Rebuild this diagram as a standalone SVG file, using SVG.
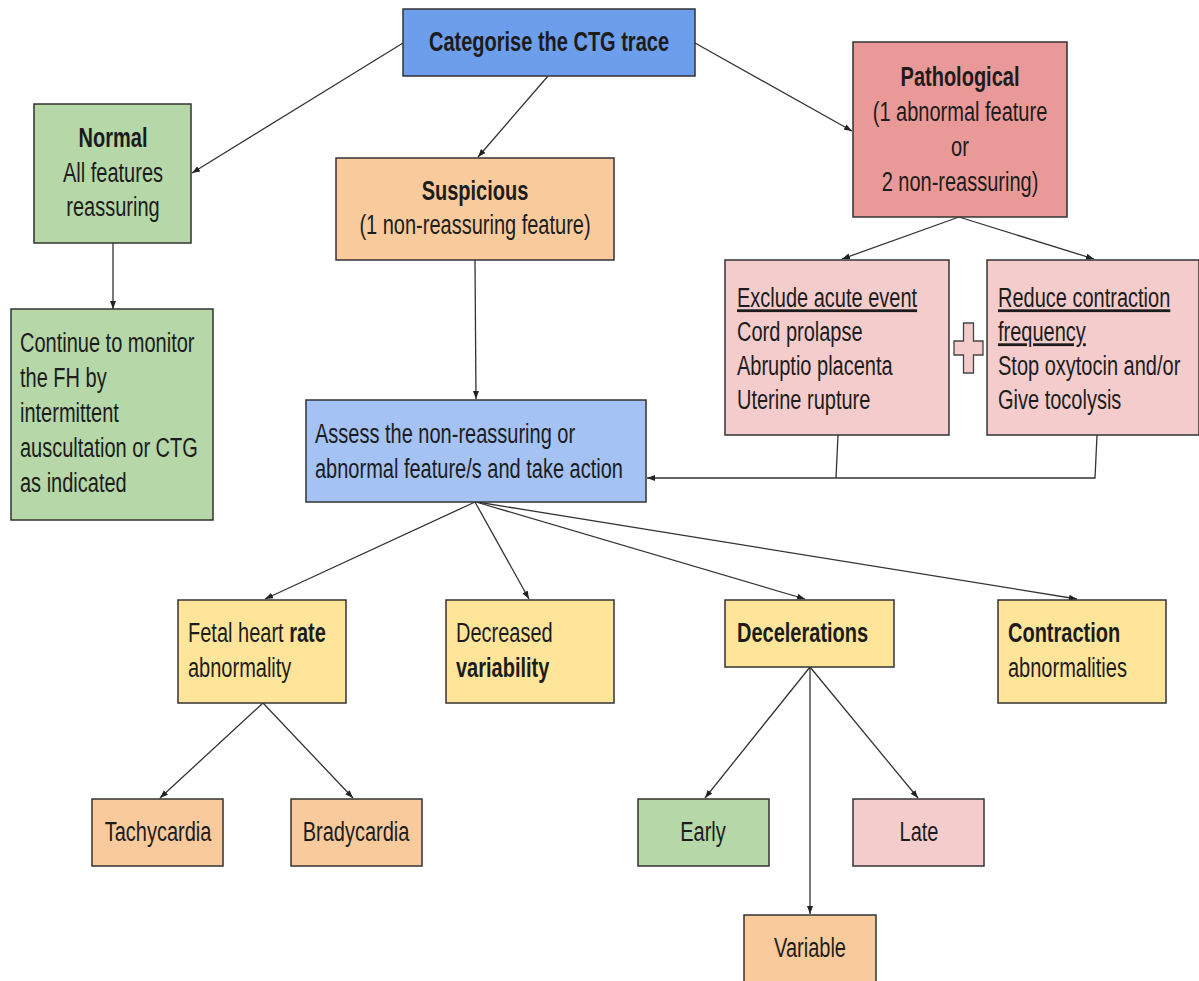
<svg xmlns="http://www.w3.org/2000/svg" width="1199" height="981" viewBox="0 0 1199 981">
<style>
.box{stroke:#333;stroke-width:1.5}
.t{font-family:"Liberation Sans",Arial,sans-serif;font-size:20px;fill:#1c1c1c}
.b{font-weight:bold}
.m{text-anchor:middle}
.u{text-decoration:underline}
.c{fill:none;stroke:#333;stroke-width:1.3}
.blue{fill:#6d9eeb}.lblue{fill:#a4c2f4}.green{fill:#b6d7a8}.orange{fill:#f9cb9c}
.red{fill:#ea9999}.pink{fill:#f4cccc}.yellow{fill:#ffe599}
</style>
<defs>
<marker id="ah" markerUnits="userSpaceOnUse" markerWidth="9" markerHeight="7" refX="8" refY="3.5" orient="auto">
<path d="M0,0.5 L8,3.5 L0,6.5 z" fill="#222"/>
</marker>
</defs>
<rect width="1199" height="981" fill="#fff"/>
<g id="connectors">
<path class="c" d="M403,43 L192,173" marker-end="url(#ah)"/>
<path class="c" d="M548,76 L478,157" marker-end="url(#ah)"/>
<path class="c" d="M695,43 L852,131" marker-end="url(#ah)"/>
<path class="c" d="M113,243 L113,309" marker-end="url(#ah)"/>
<path class="c" d="M475,260 L476,399" marker-end="url(#ah)"/>
<path class="c" d="M959,217 L842,259" marker-end="url(#ah)"/>
<path class="c" d="M959,217 L1094,259" marker-end="url(#ah)"/>
<path class="c" d="M838,435 L836,478"/>
<path class="c" d="M1097,435 L1095,478 L647,478" marker-end="url(#ah)"/>
<path class="c" d="M475,502 L265,599" marker-end="url(#ah)"/>
<path class="c" d="M475,502 L529,599" marker-end="url(#ah)"/>
<path class="c" d="M476,502 L805,599" marker-end="url(#ah)"/>
<path class="c" d="M477,502 L1077,599" marker-end="url(#ah)"/>
<path class="c" d="M263,703 L160,798" marker-end="url(#ah)"/>
<path class="c" d="M263,703 L353,798" marker-end="url(#ah)"/>
<path class="c" d="M810,667 L705,798" marker-end="url(#ah)"/>
<path class="c" d="M810,667 L918,798" marker-end="url(#ah)"/>
<path class="c" d="M810,667 L810,914" marker-end="url(#ah)"/>
</g>
<g id="categorise">
<rect class="box blue" x="403" y="9" width="292" height="67"/>
<text class="t b m" transform="matrix(1 0 0 1.4 549 51)">Categorise the CTG trace</text>
</g>
<g id="normal">
<rect class="box green" x="34" y="104" width="157" height="139"/>
<text class="t b m" transform="matrix(1 0 0 1.4 113 147)">Normal</text>
<text class="t m" transform="matrix(1 0 0 1.4 113 182)">All features</text>
<text class="t m" transform="matrix(1 0 0 1.4 113 216)">reassuring</text>
</g>
<g id="suspicious">
<rect class="box orange" x="336" y="158" width="278" height="102"/>
<text class="t b m" transform="matrix(1 0 0 1.4 475 200)">Suspicious</text>
<text class="t m" transform="matrix(1 0 0 1.4 475 234)">(1 non-reassuring feature)</text>
</g>
<g id="pathological">
<rect class="box red" x="853" y="42" width="214" height="175"/>
<text class="t b m" transform="matrix(1 0 0 1.4 960 86)">Pathological</text>
<text class="t m" transform="matrix(1 0 0 1.4 960 121)">(1 abnormal feature</text>
<text class="t m" transform="matrix(1 0 0 1.4 960 156)">or</text>
<text class="t m" transform="matrix(1 0 0 1.4 960 191)">2 non-reassuring)</text>
</g>
<g id="continue">
<rect class="box green" x="11" y="309" width="202" height="211"/>
<text class="t" transform="matrix(1 0 0 1.4 20 352)">Continue to monitor</text>
<text class="t" transform="matrix(1 0 0 1.4 20 387)">the FH by</text>
<text class="t" transform="matrix(1 0 0 1.4 20 422)">intermittent</text>
<text class="t" transform="matrix(1 0 0 1.4 20 457)">auscultation or CTG</text>
<text class="t" transform="matrix(1 0 0 1.4 20 492)">as indicated</text>
</g>
<g id="exclude">
<rect class="box pink" x="725" y="260" width="224" height="175"/>
<text class="t u" transform="matrix(1 0 0 1.4 737 307)">Exclude acute event</text>
<text class="t" transform="matrix(1 0 0 1.4 737 341)">Cord prolapse</text>
<text class="t" transform="matrix(1 0 0 1.4 737 375)">Abruptio placenta</text>
<text class="t" transform="matrix(1 0 0 1.4 737 409)">Uterine rupture</text>
</g>
<g id="plus">
<polygon class="pink" stroke="#444" stroke-width="1.3" points="963.5,323 973.5,323 973.5,341 983,341 983,355 973.5,355 973.5,373 963.5,373 963.5,355 954,355 954,341 963.5,341"/>
</g>
<g id="reduce">
<rect class="box pink" x="987" y="260" width="212" height="175"/>
<text class="t u" transform="matrix(1 0 0 1.4 998 307)">Reduce contraction</text>
<text class="t u" transform="matrix(1 0 0 1.4 998 341)">frequency</text>
<text class="t" transform="matrix(1 0 0 1.4 998 375)">Stop oxytocin and/or</text>
<text class="t" transform="matrix(1 0 0 1.4 998 409)">Give tocolysis</text>
</g>
<g id="assess">
<rect class="box lblue" x="306" y="400" width="340" height="102"/>
<text class="t" transform="matrix(1 0 0 1.4 315 443)">Assess the non-reassuring or</text>
<text class="t" transform="matrix(1 0 0 1.4 315 478)">abnormal feature/s and take action</text>
</g>
<g id="fetal-heart-rate">
<rect class="box yellow" x="178" y="600" width="168" height="103"/>
<text class="t" transform="matrix(1 0 0 1.4 188 642)">Fetal heart <tspan class="b">rate</tspan></text>
<text class="t" transform="matrix(1 0 0 1.4 188 677)">abnormality</text>
</g>
<g id="variability">
<rect class="box yellow" x="446" y="600" width="168" height="103"/>
<text class="t" transform="matrix(1 0 0 1.4 456 642)">Decreased</text>
<text class="t b" transform="matrix(1 0 0 1.4 456 677)">variability</text>
</g>
<g id="decelerations">
<rect class="box yellow" x="725" y="600" width="169" height="67"/>
<text class="t b" transform="matrix(1 0 0 1.4 737 642)">Decelerations</text>
</g>
<g id="contraction">
<rect class="box yellow" x="998" y="600" width="168" height="103"/>
<text class="t b" transform="matrix(1 0 0 1.4 1008 642)">Contraction</text>
<text class="t" transform="matrix(1 0 0 1.4 1008 677)">abnormalities</text>
</g>
<g id="tachycardia">
<rect class="box orange" x="92" y="799" width="131" height="67"/>
<text class="t m" transform="matrix(1 0 0 1.4 158 841)">Tachycardia</text>
</g>
<g id="bradycardia">
<rect class="box orange" x="291" y="799" width="131" height="67"/>
<text class="t m" transform="matrix(1 0 0 1.4 356 841)">Bradycardia</text>
</g>
<g id="early">
<rect class="box green" x="638" y="799" width="131" height="67"/>
<text class="t m" transform="matrix(1 0 0 1.4 703 841)">Early</text>
</g>
<g id="late">
<rect class="box pink" x="853" y="799" width="131" height="67"/>
<text class="t m" transform="matrix(1 0 0 1.4 919 841)">Late</text>
</g>
<g id="variable">
<rect class="box orange" x="744" y="915" width="132" height="70"/>
<text class="t m" transform="matrix(1 0 0 1.4 810 957)">Variable</text>
</g>
</svg>
